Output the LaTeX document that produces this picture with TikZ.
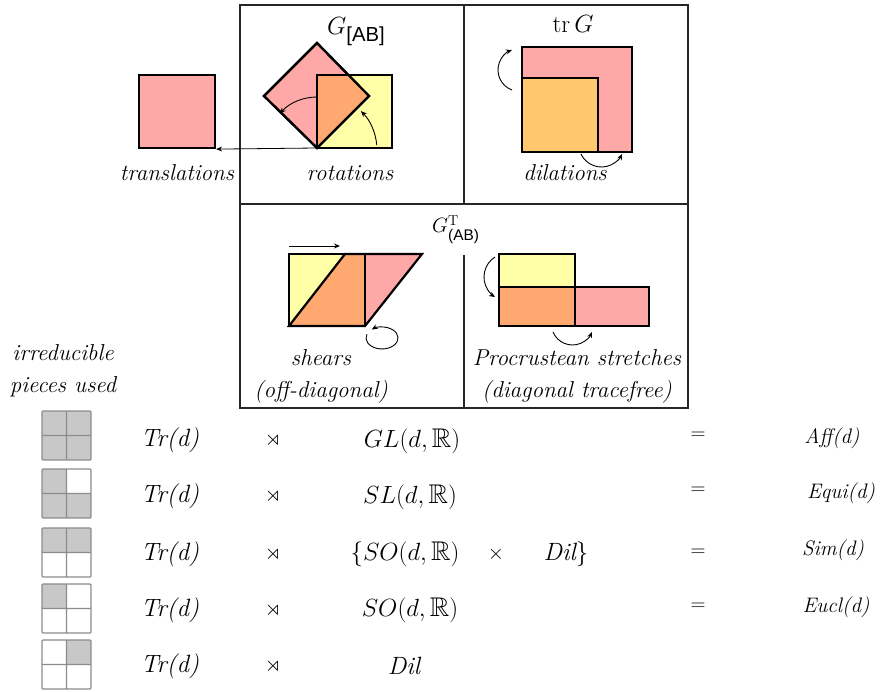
\documentclass[tikz,border=0pt]{standalone}
\usepackage{amsmath,amssymb}
\usepackage[no-math]{fontspec}
\setsansfont{Liberation Sans}
\usetikzlibrary{arrows.meta}

\definecolor{pinkfill}{HTML}{FFA8A8}
\definecolor{yellowfill}{HTML}{FFFFA8}
\definecolor{orangefill}{HTML}{FFA870}
\definecolor{amberfill}{HTML}{FFC870}
\definecolor{greyfill}{HTML}{C8C8C8}

% one 2x2 block of the irreducible pieces: top y, then tl, tr, bl, br fills
\newcommand{\irrgrid}[5]{%
  \begin{scope}[shift={(42,#1)}]
    \fill[#2] (0,0) rectangle (24.5,24.5);
    \fill[#3] (24.5,0) rectangle (49,24.5);
    \fill[#4] (0,24.5) rectangle (24.5,49);
    \fill[#5] (24.5,24.5) rectangle (49,49);
    \draw[gridline] (0,0) rectangle (49,49) (24.5,0) -- (24.5,49) (0,24.5) -- (49,24.5);
  \end{scope}}

\begin{document}
\begin{tikzpicture}[x=1pt, y=-1pt,
  piece/.style={draw=black, line width=2.2pt},
  boxframe/.style={draw=black!85, line width=1.4pt},
  gridline/.style={draw=black!45, line width=1.2pt, rounded corners=1pt},
  arr/.style={-{Stealth[length=6pt,width=5pt]}, line width=0.9pt},
  lbl/.style={font=\itshape\fontsize{23}{32}\selectfont, inner sep=0pt, align=center},
  head/.style={font=\fontsize{29}{30}\selectfont, inner sep=0pt},
  rowtext/.style={font=\itshape\fontsize{25}{30}\selectfont, inner sep=0pt},
  rowmath/.style={font=\fontsize{27}{30}\selectfont, inner sep=0pt},
  opsym/.style={font=\fontsize{21}{22}\selectfont, inner sep=0pt},
  result/.style={font=\itshape\fontsize{21}{22}\selectfont, inner sep=0pt}
]
\useasboundingbox (0,0) rectangle (884,692);

% frame of the four panels
\draw[boxframe] (240,5) rectangle (688,408);
\draw[boxframe] (240,204) -- (688,204);
\draw[boxframe] (464,5) -- (464,204);
\draw[boxframe] (464,255) -- (464,408);

% translations
\node[piece, fill=pinkfill, minimum width=76pt, minimum height=73pt, inner sep=0pt] (transsq) at (177,111.5) {};

% rotations
\filldraw[piece, fill=yellowfill] (317,75) rectangle (392,148);
\filldraw[piece, fill=pinkfill] (317,43) -- (369,96) -- (317,148) -- (264,96) -- cycle;
\fill[orangefill] (317,75) -- (349,75) -- (369,96) -- (317,148) -- cycle;
\draw[piece] (317,75) rectangle (392,148);
\draw[piece] (317,43) -- (369,96) -- (317,148) -- (264,96) -- cycle;
\coordinate (rotc) at (317,148);
\draw[arr, line width=0.8pt] (rotc) -- (transsq.south east);
\draw[arr] (317,97) arc[start angle=-90, end angle=-138, radius=50];
\draw[arr] (376.8,145.2) arc[start angle=-5, end angle=-45, radius=55];

% dilations
\filldraw[piece, fill=pinkfill] (522,47) rectangle (632,152);
\filldraw[piece, fill=amberfill] (522,78) rectangle (598,152);
\draw[arr] (512,90) arc[start angle=110, end angle=250, radius=21.3];
\draw[arr] (580.9,153.9) arc[start angle=155, end angle=25, radius=22.7];

% shears
\fill[yellowfill] (289,254) rectangle (365,326);
\fill[orangefill] (289,326) -- (345,254) -- (365,254) -- (365,326) -- cycle;
\fill[pinkfill] (365,254) -- (422,254) -- (365,326) -- cycle;
\draw[piece] (289,254) rectangle (365,326);
\draw[piece] (289,326) -- (345,254) -- (422,254) -- (365,326) -- cycle;
\draw[arr] (289,246) -- (340,246);
\draw[arr] (367,334.2) arc[start angle=200, end angle=-130, x radius=16, y radius=11];

% Procrustean stretches
\filldraw[piece, fill=yellowfill] (499,254) rectangle (575,287);
\filldraw[piece, fill=orangefill] (499,287) rectangle (575,326);
\filldraw[piece, fill=pinkfill] (575,287) rectangle (649,326);
\draw[arr] (495,257) arc[start angle=237.6, end angle=122.4, radius=23.7];
\draw[arr] (553,332) arc[start angle=157.4, end angle=22.6, radius=21.1];

% panel titles and captions
\node[head, anchor=base west] (gab) at (327,35) {$G_{\textsf{[AB]}}$};
\node[head, anchor=base] (trg) at (573,33) {$\mathrm{tr}\,G$};
\node[head, anchor=base west, font=\fontsize{22}{24}\selectfont] (gt) at (432,233) {$G^{\mathrm{T}}_{\textsf{(AB)}}$};
\node[lbl] (trans) at (177,173) {translations};
\node[lbl] (rot) at (350,173) {rotations};
\node[lbl] (dil) at (565,173) {dilations};
\node[lbl] (shear) at (321,376) {shears\\(off-diagonal)};
\node[lbl] (proc) at (577,376) {Procrustean stretches\\(diagonal tracefree)};
\node[lbl] (irr) at (63,371) {irreducible\\pieces used};

% irreducible pieces
\irrgrid{411}{greyfill}{greyfill}{greyfill}{greyfill}
\irrgrid{469}{greyfill}{white}{greyfill}{greyfill}
\irrgrid{528}{greyfill}{greyfill}{white}{white}
\irrgrid{584}{greyfill}{white}{white}{white}
\irrgrid{640}{white}{greyfill}{white}{white}

% group products
\node[rowtext] (tr1) at (170,440) {Tr(d)};
\node[rowtext] (tr2) at (170,496) {Tr(d)};
\node[rowtext] (tr3) at (170,554) {Tr(d)};
\node[rowtext] (tr4) at (170,610) {Tr(d)};
\node[rowtext] (tr5) at (170,666) {Tr(d)};
\node[opsym] (sd1) at (273,440) {$\rtimes$};
\node[opsym] (sd2) at (273,496) {$\rtimes$};
\node[opsym] (sd3) at (273,554) {$\rtimes$};
\node[opsym] (sd4) at (273,610) {$\rtimes$};
\node[opsym] (sd5) at (273,666) {$\rtimes$};
\node[rowmath] (gl) at (412,441) {$GL(d,\mathbb{R})$};
\node[rowmath] (sl) at (410,497) {$SL(d,\mathbb{R})$};
\node[rowmath] (so1) at (405,554) {$\{SO(d,\mathbb{R})$};
\node[opsym] (times) at (496,554) {$\times$};
\node[rowtext] (dilb) at (566,554) {Dil$\}$};
\node[rowmath] (so2) at (410,610) {$SO(d,\mathbb{R})$};
\node[rowtext] (dilo) at (404,666) {Dil};
\node[opsym] (eq1) at (698,436) {$=$};
\node[opsym] (eq2) at (698,491) {$=$};
\node[opsym] (eq3) at (698,553) {$=$};
\node[opsym] (eq4) at (698,607) {$=$};
\node[result] (aff) at (832,438) {Aff(d)};
\node[result] (equi) at (841,493) {Equi(d)};
\node[result] (sim) at (833,550) {Sim(d)};
\node[result] (eucl) at (836,607) {Eucl(d)};
\end{tikzpicture}
\end{document}
